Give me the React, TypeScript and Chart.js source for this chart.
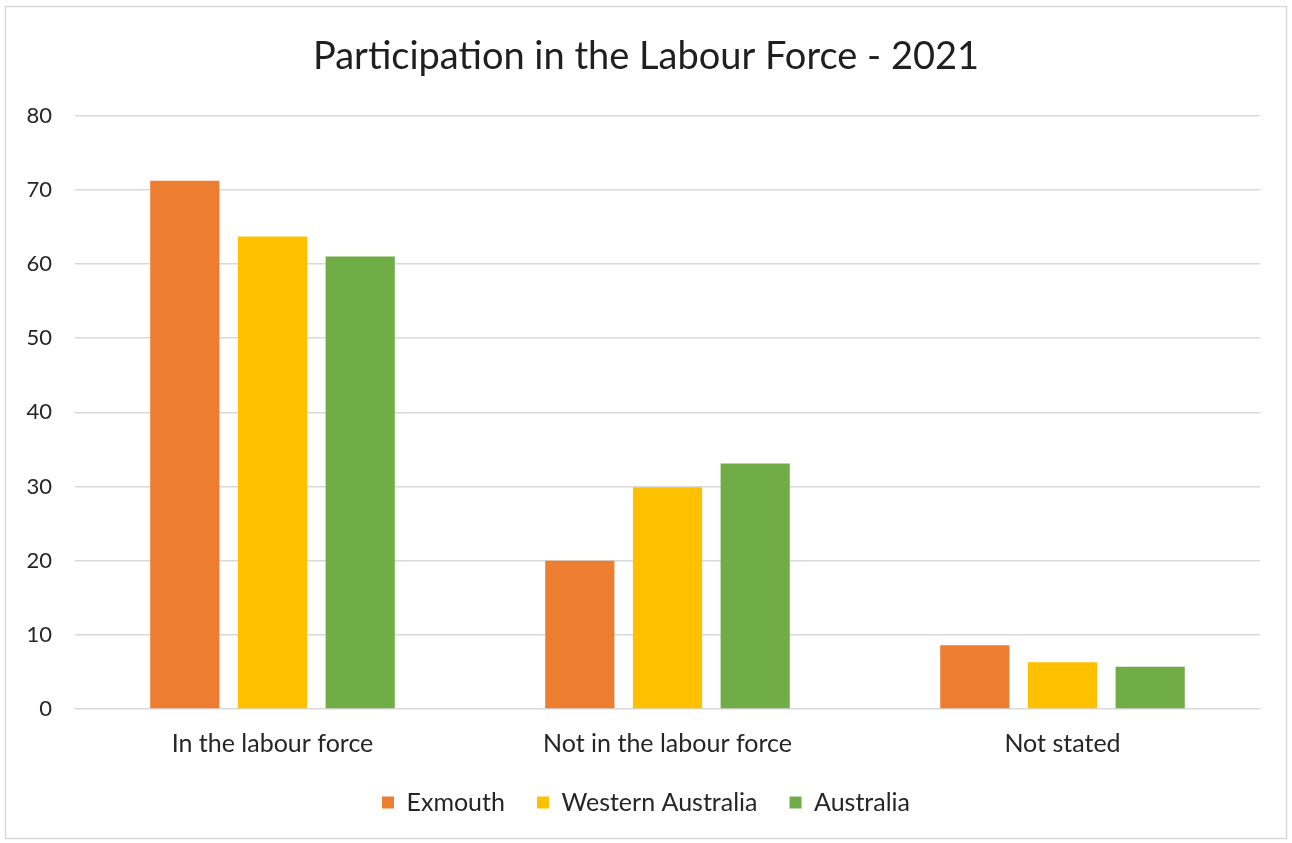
import React, { useEffect, useRef } from "react";
import { Chart, registerables } from "chart.js";

Chart.register(...registerables);

const categories = ["In the labour force", "Not in the labour force", "Not stated"];
const seriesNames = ["Exmouth", "Western Australia", "Australia"];
const exmouth = [71.2, 20.0, 8.6];
const westernAustralia = [63.7, 29.9, 6.3];
const australia = [61.0, 33.1, 5.7];
const seriesColors = ["#ED7D31", "#FFC000", "#70AD47"];
const yTicks = [0, 10, 20, 30, 40, 50, 60, 70, 80];
const titleText = "Participation in the Labour Force - 2021";

const FONT = "Lato, 'Open Sans', sans-serif";

const frame = {
  id: "frame",
  beforeDraw(chart: any) {
    const ctx = chart.ctx;
    ctx.save();
    ctx.fillStyle = "#ffffff";
    ctx.fillRect(0, 0, chart.width, chart.height);
    ctx.strokeStyle = "#d9d9d9";
    ctx.lineWidth = 1.5;
    ctx.strokeRect(5.5, 6.5, chart.width - 11, chart.height - 11);
    ctx.restore();
  },
};

export default function App() {
  const ref = useRef<HTMLCanvasElement | null>(null);
  useEffect(() => {
    if (!ref.current) return;
    const values = [exmouth, westernAustralia, australia];
    const chart = new Chart(ref.current, {
      type: "bar",
      data: {
        labels: categories,
        datasets: seriesNames.map((name, i) => ({
          label: name,
          data: values[i],
          backgroundColor: seriesColors[i],
          borderWidth: 0,
          categoryPercentage: 0.666,
          barPercentage: 0.789,
        })),
      },
      plugins: [frame],
      options: {
        animation: false,
        responsive: false,
        devicePixelRatio: 1,
        layout: { padding: { top: 6, left: 0, right: 0, bottom: 18 } },
        plugins: {
          title: {
            display: true,
            text: titleText,
            color: "#1f1f1f",
            font: { family: FONT, size: 38, weight: "normal" },
            padding: { top: 28, bottom: 36 },
          },
          legend: {
            display: true,
            position: "bottom",
            labels: {
              color: "#262626",
              font: { family: FONT, size: 25 },
              boxWidth: 12,
              boxHeight: 12,
              padding: 32,
            },
          },
          tooltip: { enabled: false },
        },
        scales: {
          x: {
            grid: { display: false, drawTicks: false },
            border: { display: false },
            ticks: {
              color: "#262626",
              font: { family: FONT, size: 25 },
              padding: 20,
            },
            afterFit(scale: any) {
              scale.height = 49;
            },
          },
          y: {
            min: 0,
            max: 80,
            afterBuildTicks(scale: any) {
              scale.ticks = yTicks.map((v) => ({ value: v }));
            },
            grid: { color: "#d9d9d9", lineWidth: 1.5, drawTicks: false },
            border: { display: false },
            ticks: {
              color: "#262626",
              font: { family: FONT, size: 22 },
              padding: 23,
            },
            afterFit(scale: any) {
              scale.width = 75;
            },
          },
          spacer: {
            type: "linear",
            position: "right",
            display: true,
            grid: { display: false, drawTicks: false },
            border: { display: false },
            ticks: { display: false },
            afterFit(scale: any) {
              scale.width = 32;
            },
          },
        },
      },
    });
    return () => chart.destroy();
  }, []);
  return (
    <div style={{ position: "absolute", left: 0, top: 0 }}>
      <canvas ref={ref} width={1292} height={843} style={{ display: "block" }} />
    </div>
  );
}
